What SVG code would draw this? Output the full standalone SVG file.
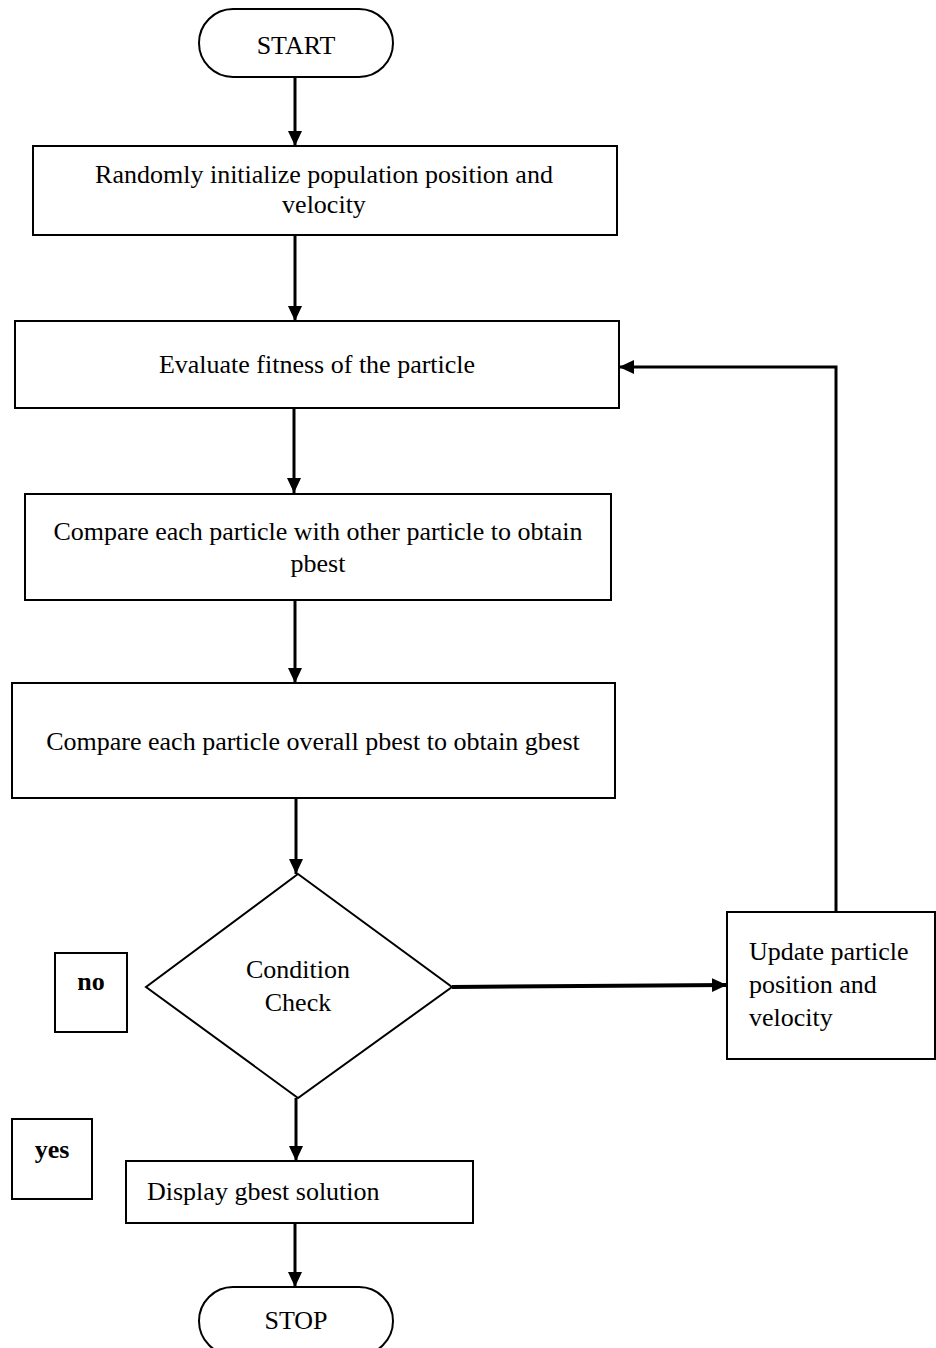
<svg xmlns="http://www.w3.org/2000/svg" width="936" height="1348" viewBox="0 0 936 1348">
<style>
.box{fill:#fff;stroke:#000;stroke-width:2}
.t{font-family:"Liberation Serif","Times New Roman",serif;font-size:26px;fill:#000}
.c{text-anchor:middle}
.b{font-weight:bold}
.ln{fill:none;stroke:#000;stroke-width:3}
.arr{marker-end:url(#ah)}
</style>
<defs>
<marker id="ah" markerUnits="userSpaceOnUse" markerWidth="16" markerHeight="16" viewBox="0 0 16 16" refX="15" refY="8" orient="auto">
<path d="M0,1 L15,8 L0,15 Z" fill="#000"/>
</marker>
</defs>
<rect width="936" height="1348" fill="#fff"/>
<g id="connectors">
<line class="ln arr" x1="295" y1="77" x2="295" y2="146"/>
<line class="ln arr" x1="295" y1="235" x2="295" y2="321"/>
<line class="ln arr" x1="294" y1="408" x2="294" y2="493"/>
<line class="ln arr" x1="295" y1="600" x2="295" y2="683"/>
<line class="ln arr" x1="296" y1="798" x2="296" y2="874"/>
<line class="ln arr" x1="296" y1="1098" x2="296" y2="1161"/>
<line class="ln arr" x1="295" y1="1223" x2="295" y2="1287"/>
<line class="ln arr" style="stroke-width:4" x1="452" y1="987" x2="727" y2="985"/>
<polyline class="ln arr" points="836,912 836,367 619,367"/>
</g>
<g id="start">
<rect class="box" x="199" y="9" width="194" height="68" rx="34"/>
<text class="t c" x="296" y="54">START</text>
</g>
<g id="init">
<rect class="box" x="33" y="146" width="584" height="89"/>
<text class="t c" x="324" y="183">Randomly initialize population position and</text>
<text class="t c" x="324" y="213">velocity</text>
</g>
<g id="evaluate">
<rect class="box" x="15" y="321" width="604" height="87"/>
<text class="t c" x="317" y="373">Evaluate fitness of the particle</text>
</g>
<g id="pbest">
<rect class="box" x="25" y="494" width="586" height="106"/>
<text class="t c" x="318" y="540">Compare each particle with other particle to obtain</text>
<text class="t c" x="318" y="572">pbest</text>
</g>
<g id="gbest">
<rect class="box" x="12" y="683" width="603" height="115"/>
<text class="t c" x="313" y="750">Compare each particle overall pbest to obtain gbest</text>
</g>
<g id="condition">
<polygon class="box" points="298,874 452,987 298,1098 146,987"/>
<text class="t c" x="298" y="978">Condition</text>
<text class="t c" x="298" y="1011">Check</text>
</g>
<g id="no">
<rect class="box" x="55" y="953" width="72" height="79"/>
<text class="t c b" x="91" y="990">no</text>
</g>
<g id="update">
<rect class="box" x="727" y="912" width="208" height="147"/>
<text class="t" x="749" y="960">Update particle</text>
<text class="t" x="749" y="993">position and</text>
<text class="t" x="749" y="1026">velocity</text>
</g>
<g id="yes">
<rect class="box" x="12" y="1119" width="80" height="80"/>
<text class="t c b" x="52" y="1158">yes</text>
</g>
<g id="display">
<rect class="box" x="126" y="1161" width="347" height="62"/>
<text class="t" x="147" y="1200">Display gbest solution</text>
</g>
<g id="stop">
<rect class="box" x="199" y="1287" width="194" height="68" rx="34"/>
<text class="t c" x="296" y="1329">STOP</text>
</g>
</svg>
